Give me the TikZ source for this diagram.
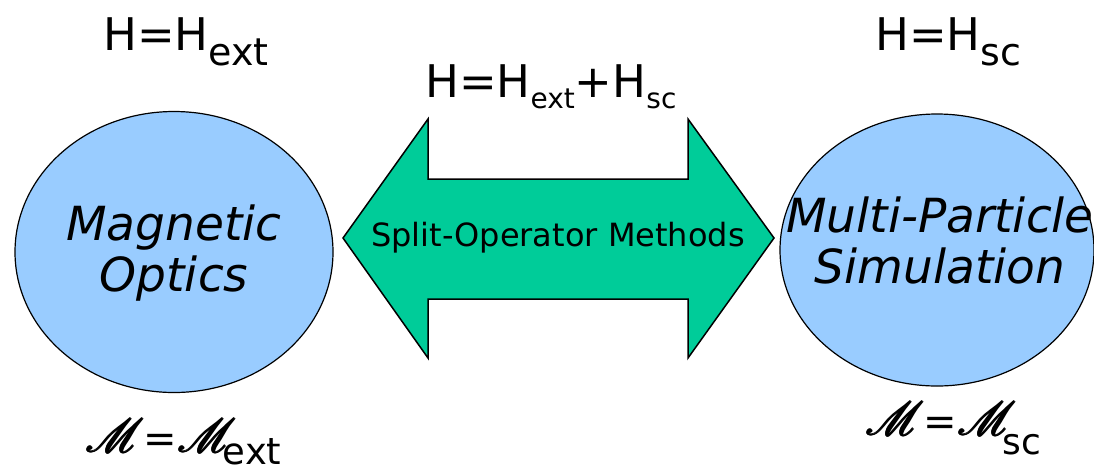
\documentclass[tikz,border=0pt]{standalone}
\usepackage{fontspec}
\setmainfont{DejaVu Sans}
\usepackage{graphicx}
\usepackage{mathrsfs}
\usepackage{tikz}
\usetikzlibrary{shapes.geometric, positioning}
\definecolor{bubbleblue}{HTML}{99CCFF}
\definecolor{splitgreen}{HTML}{00CC99}
\tikzset{
	bubble/.style={ellipse, draw=black, line width=1.2pt, fill=bubbleblue, inner sep=0pt},
	splitarrow/.style={draw=black, line width=1.5pt, fill=splitgreen, line join=miter}
}
\newcommand{\sizeat}[1]{\fontsize{#1}{#1}\selectfont}
\newcommand{\lowsub}[3]{\raisebox{#2}{\sizeat{#1}#3}}
\newcommand{\thinM}{\scalebox{1.9}{$\mathscr{M}$}}
% heavier script M: the glyph stamped a few times
\newcommand{\scrM}{\rlap{\thinM}\rlap{\kern0.9pt\thinM}\rlap{\raisebox{0.6pt}{\kern0.45pt\thinM}}\thinM}

\begin{document}
\begin{tikzpicture}[
	x=1pt, y=-1pt,
	eq/.style={anchor=base west, inner sep=0pt, font=\sizeat{45pt}},
	bubbletext/.style={align=center, inner sep=0pt, font=\fontsize{47pt}{51pt}\selectfont\itshape}]
	\useasboundingbox (0,0) rectangle (1094,467);
	\node[bubble, minimum width=318pt, minimum height=281pt] (optics) at (174,252) {};
	\node[bubble, minimum width=314pt, minimum height=272pt] (simulation) at (937,250) {};
	\node[bubbletext] (opticstext) at (174,253) {Magnetic\\Optics};
	\node[bubbletext] (simtext) at (940,240) {Multi-Particle\\Simulation};
	\draw[splitarrow] (343,238) -- (428,119) -- (428,179) -- (688,179) -- (688,119) -- (774,238)
		-- (688,358) -- (688,299) -- (428,299) -- (428,358) -- cycle;
	\node[inner sep=0pt, font=\sizeat{32pt}] (split) at (558,238) {Split-Operator Methods};
	\node[eq] (hext) at (103,50) {H=H\lowsub{38pt}{-15pt}{ext}};
	\node[eq] (hsc) at (875,50) {H=H\lowsub{38pt}{-15pt}{sc}};
	\node[eq] (hsplit) at (425,97) {H=H\lowsub{28pt}{-11pt}{ext}+H\lowsub{28pt}{-11pt}{sc}};
	\node[eq, font=\sizeat{40pt}] (mext) at (85,452) {\scrM=\scrM\kern-13pt\lowsub{37pt}{-12pt}{ext}};
	\node[eq, font=\sizeat{40pt}] (msc) at (865,435) {\scrM=\scrM\kern-13pt\lowsub{36pt}{-19pt}{sc}};
\end{tikzpicture}
\end{document}
